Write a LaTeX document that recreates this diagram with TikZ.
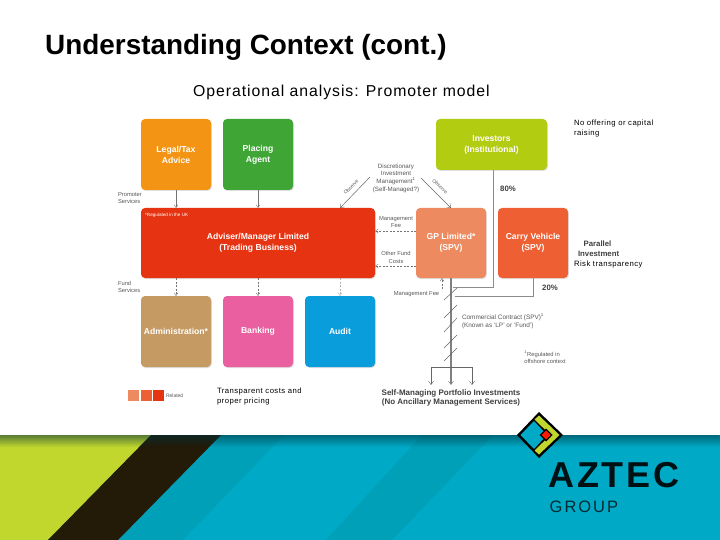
\documentclass[tikz,border=0pt]{standalone}
\usepackage{fontspec}
\setmainfont{Liberation Sans}
\newfontfamily\spaced[LetterSpace=6]{Liberation Sans}
\newfontfamily\azfont[LetterSpace=8]{Liberation Sans}
\newfontfamily\grfont[LetterSpace=12]{Liberation Sans}
\usetikzlibrary{arrows.meta,shadows,calc,fadings}
\definecolor{teal1}{HTML}{00A9C6}
\definecolor{teal2}{HTML}{00A0B8}
\definecolor{lime1}{HTML}{C1D72E}
\definecolor{dark1}{HTML}{231A08}
\tikzset{x=1pt,y=-1pt,
 boxn/.style={draw=none,rounded corners=4pt,minimum height=71pt,minimum width=70pt,inner sep=0pt,outer sep=0pt,text=white,align=center,font=\bfseries\fontsize{8.6}{11}\selectfont,drop shadow={opacity=.25,shadow xshift=.8pt,shadow yshift=-1pt}},
 tiny/.style={inner sep=0pt,outer sep=0pt,align=center,text=black!65,font=\fontsize{5.8}{7.4}\selectfont},
 side/.style={inner sep=0pt,outer sep=0pt,align=left,anchor=west,font=\spaced\fontsize{7.7}{10}\selectfont},
 strongl/.style={inner sep=0pt,outer sep=0pt,align=center,text=black!75,font=\bfseries\fontsize{7.8}{10}\selectfont},
 solidc/.style={draw=black!55,line width=.7pt,-{Straight Barb[length=3pt,width=4pt,line width=.4pt]}},
 dashc/.style={draw=black!55,line width=.5pt,dashed,dash pattern=on 2pt off 1.5pt,-{Straight Barb[length=3pt,width=4pt,line width=.4pt]}},
 thinc/.style={draw=black!60,line width=.5pt,-{Straight Barb[length=3.5pt,width=5pt,line width=.4pt]}},
 plain/.style={draw=black!45,line width=.6pt},
 hatch/.style={draw=black!60,line width=.5pt},
}
\begin{document}
\begin{tikzpicture}
\useasboundingbox (0,0) rectangle (720,540);
\fill[white] (0,0) rectangle (720,540);
% band
\fill[teal1] (0,435) rectangle (720,540);
\fill[teal2] (221,435) -- (284,435) -- (183,540) -- (118,540) -- cycle;
\fill[teal2] (422,435) -- (493,435) -- (392,540) -- (326,540) -- cycle;
\fill[lime1] (0,435) -- (151,435) -- (48,540) -- (0,540) -- cycle;
\fill[dark1] (151,435) -- (221,435) -- (118,540) -- (48,540) -- cycle;
\shade[top color=black!70!teal1,bottom color=black!70!teal1,opacity=.55,path fading=south] (0,435) rectangle (720,447);
% titles
\node[inner sep=0,anchor=west,font=\bfseries\fontsize{27.9}{30}\selectfont] (title) at (45,47) {Understanding Context (cont.)};
\node[inner sep=0,anchor=west,font=\spaced\fontsize{15.8}{20}\selectfont] (sub) at (193,92.5) {Operational analysis: Promoter model};
% boxes
\node[boxn,fill={rgb,255:red,243;green,148;blue,21}] (legal) at (176,154.5) {Legal/Tax\\Advice};
\node[boxn,fill={rgb,255:red,63;green,165;blue,53}] (place) at (258,154.5) {Placing\\Agent};
\node[boxn,minimum width=111pt,minimum height=51pt,fill={rgb,255:red,178;green,204;blue,18}] (inv) at (491.5,144.5) {Investors\\(Institutional)};
\node[boxn,minimum width=234pt,minimum height=70pt,fill={rgb,255:red,230;green,51;blue,18}] (adv) at (258,243) {Adviser/Manager Limited\\(Trading Business)};
\node[boxn,minimum height=70pt,fill={rgb,255:red,238;green,138;blue,96}] (gp) at (451,243) {GP Limited*\\(SPV)};
\node[boxn,minimum height=70pt,fill={rgb,255:red,238;green,96;blue,52}] (carry) at (533,243) {Carry Vehicle\\(SPV)};
\node[boxn,fill={rgb,255:red,198;green,154;blue,99}] (admin) at (176,331.5) {Administration*};
\node[boxn,fill={rgb,255:red,234;green,95;blue,159}] (bank) at (258,331.5) {Banking};
\node[boxn,fill={rgb,255:red,10;green,157;blue,219}] (audit) at (340,331.5) {Audit};
\node[inner sep=0,anchor=west,text=white,font=\fontsize{4.6}{6}\selectfont] (reg) at (145,215) {*Regulated in the UK};
% service connectors
\draw[solidc] (legal.south) -- (legal.south |- adv.north);
\draw[solidc] (place.south) -- (place.south |- adv.north);
\draw[dashc] (legal.south |- adv.south) -- (admin.north);
\draw[dashc] (place.south |- adv.south) -- (bank.north);
\draw[dashc,draw=black!30] (audit.north |- adv.south) -- (audit.north);
% observe
\coordinate (dl) at (370,177); \coordinate (dr) at (421,178);
\coordinate (dlt) at (340,0);
\draw[thinc] (dl) -- (adv.north -| dlt);
\draw[thinc] (dr) -- (gp.north);
\node[tiny,rotate=45,font=\fontsize{5}{6}\selectfont] (lo) at (351,187) {Observe};
\node[tiny,rotate=-44,font=\fontsize{5}{6}\selectfont] (lr) at (440,186.5) {Observe};
\node[tiny,font=\fontsize{6.2}{7.7}\selectfont] (dim) at (396,178) {Discretionary\\Investment\\Management\textsuperscript{1}\\(Self-Managed?)};
% fee arrows
\coordinate (fy1) at (0,231); \coordinate (fy2) at (0,266);
\coordinate (f1) at (gp.west |- fy1); \coordinate (f2) at (gp.west |- fy2);
\draw[dashc] (f1) -- (f1 -| adv.east);
\draw[dashc] (f2) -- (f2 -| adv.east);
\node[tiny] (mf) at (396,222) {Management\\Fee};
\node[tiny] (of) at (396,257.5) {Other Fund\\Costs};
% labels left
\node[tiny,anchor=west,align=left] (prom) at (118,198) {Promoter\\Services};
\node[tiny,anchor=west,align=left] (fund) at (118,287) {Fund\\Services};
% trunk
\coordinate (tb) at (451,367);
\coordinate (te) at (451,385);
\coordinate (bl) at (431,367); \coordinate (br) at (472,367);
\draw[draw=black!50,line width=1.1pt,-{Straight Barb[length=3.5pt,width=5pt,line width=.4pt]}] (gp.south) -- (te);
\draw[thinc] (tb) -- (bl) -- (bl |- te);
\draw[thinc] (tb) -- (br) -- (br |- te);
\coordinate (j1) at (493,287); \coordinate (j2) at (533,296);
\coordinate (je1) at (453,0); \coordinate (je2) at (455,0);
\draw[plain] (inv.south -| j1) -- (j1) -- (j1 -| je1);
\draw[plain] (carry.south -| j2) -- (j2) -- (j2 -| je2);
\foreach \ya/\yb in {300/288,318/305,332/318,348/335,361/348}{
 \draw[hatch] (444,\ya) -- (457,\yb);
}
\coordinate (mft) at (442,289);
\draw[dashc] (mft) -- (mft |- gp.south);
\node[tiny,font=\fontsize{5.8}{7}\selectfont] (mfl) at (416.5,294.5) {Management Fee};
\node[strongl] (p80) at (508,189) {80\%};
\node[strongl] (p20) at (550,288) {20\%};
\node[tiny,align=left,anchor=west,font=\fontsize{6.4}{8}\selectfont] (cc) at (462,321) {Commercial Contract (SPV)\textsuperscript{1}\\(Known as `LP' or `Fund')};
\node[tiny,align=left,font=\fontsize{5.8}{7}\selectfont] (reg2) at (545,357) {\textsuperscript{1}Regulated in\\offshore context};
\node[strongl,font=\bfseries\fontsize{8}{9.8}\selectfont] (spm) at (451,398) {Self-Managing Portfolio Investments\\(No Ancillary Management Services)};
% legend
\node[minimum size=11pt,inner sep=0,fill={rgb,255:red,238;green,138;blue,96}] (l1) at (133.5,395) {};
\node[minimum size=11pt,inner sep=0,fill={rgb,255:red,238;green,96;blue,52}] (l2) at (146,395) {};
\node[minimum size=11pt,inner sep=0,fill={rgb,255:red,230;green,51;blue,18}] (l3) at (158.5,395) {};
\node[tiny,anchor=west,font=\fontsize{5}{6}\selectfont] (lt) at (166,395.5) {Related};
% side text
\node[side] (s1) at (574,129) {No offering or capital\\raising};
\node[strongl,align=left,anchor=west] (s2) at (578,248.5) {\ \ \,Parallel\\Investment};
\node[side] (s3) at (574,265) {Risk transparency};
\node[side] (s4) at (217,397) {Transparent costs and\\proper pricing};
% logo
\fill[black] (539,412) -- (563,435) -- (539,458) -- (517,435) -- cycle;
\fill[teal1] (520.5,435) -- (534,421) -- (547,435) -- (534,449) -- cycle;
\fill[lime1] (539,415.5) -- (559.5,435) -- (539,454.5) -- (534.5,450.5) -- (550.5,435) -- (534.5,419.5) -- cycle;
\fill[black] (546,428.5) -- (552.5,435) -- (546,441.5) -- (539.5,435) -- cycle;
\fill[red!80!orange] (546,430.5) -- (550.5,435) -- (546,439.5) -- (541.5,435) -- cycle;
\node[inner sep=0,anchor=west,text=black!90!teal1,font=\azfont\bfseries\fontsize{36}{40}\selectfont] (az) at (548,475) {AZTEC};
\node[inner sep=0,anchor=west,text=black!75!teal1,font=\grfont\fontsize{16.5}{20}\selectfont] (gr) at (549.5,507) {GROUP};
\end{tikzpicture}
\end{document}
